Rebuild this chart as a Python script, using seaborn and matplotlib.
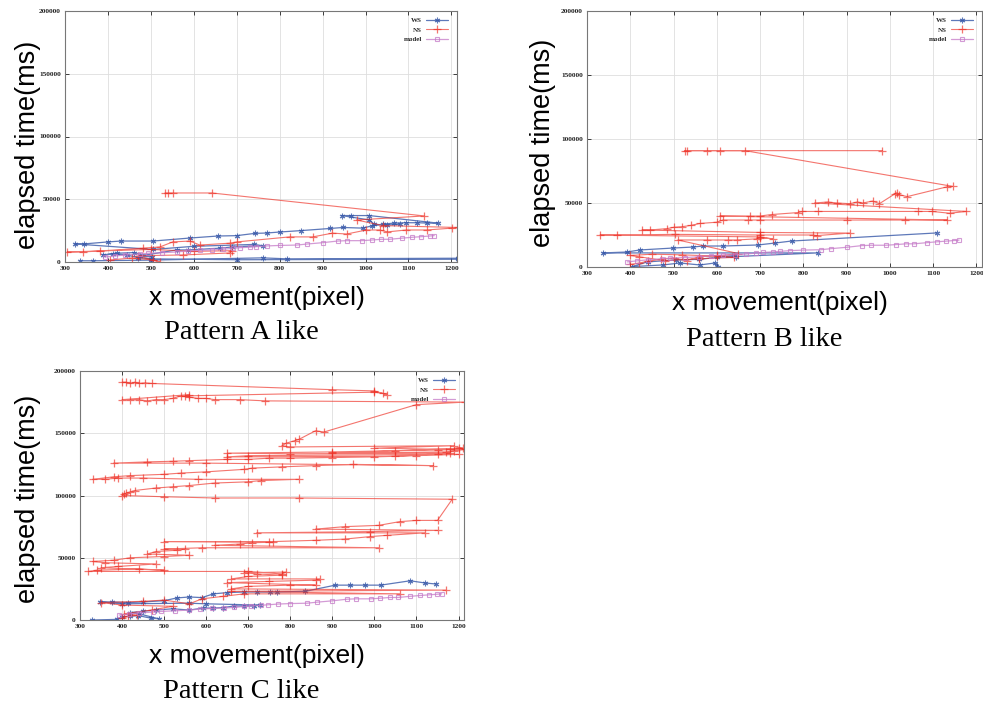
import numpy as np
import matplotlib
matplotlib.use("Agg")
import matplotlib.pyplot as plt
import seaborn as sns

# ---------------- data ----------------
x_ticks = [300, 400, 500, 600, 700, 800, 900, 1000, 1100, 1200]
y_ticks = [0, 50000, 100000, 150000, 200000]
series_labels = ["WS", "NS", "model"]
panel_titles = ["Pattern A like", "Pattern B like", "Pattern C like"]

model_x = [393, 416, 440, 474, 493, 526, 560, 586, 615, 642, 667, 691, 707, 730, 746, 770,
           800, 840, 863, 900, 935, 956, 991, 1014, 1037, 1056, 1085, 1109, 1130, 1149, 1160]
model_y = [4000, 4800, 5600, 6400, 6900, 7400, 8000, 8800, 9300, 9600, 10100, 10900, 11400, 11800,
           12200, 12800, 13200, 13500, 14300, 15400, 16700, 17000, 17000, 17500, 18100, 18100,
           19000, 19700, 20200, 20700, 21000]

# Pattern A
ws_a_x = [335, 365, 500, 760, 818, 1215, 1215, 700, 500, 470, 444, 412, 388, 420, 460, 502, 474,
          560, 586, 660, 690, 760, 740, 600, 505, 323, 344, 400, 430, 505, 591, 656, 700, 742, 770,
          800, 849, 917, 947, 993, 1014, 1040, 1067, 1095, 1121, 1144, 1168, 1009, 967, 944, 1009,
          1020, 1050, 1080]
ws_a_y = [1000, 1000, 1500, 3300, 2500, 3000, 2200, 1800, 2500, 3500, 5600, 6400, 5600, 7000, 7500,
          4000, 4800, 9600, 9600, 11000, 12000, 13000, 14000, 12500, 10000, 14400, 14400, 16000,
          16700, 16700, 19100, 20700, 21000, 22800, 23100, 23900, 25000, 26700, 27500, 27000,
          28700, 30200, 31000, 31300, 31300, 31000, 31000, 37000, 37000, 37000, 33500, 30000,
          29500, 30000]
ns_a_x = [405, 456, 505, 521, 470, 574, 684, 690, 600, 500, 305, 342, 381, 481, 521, 551, 591, 614,
          684, 700, 823, 877, 923, 956, 1002, 1033, 1051, 1095, 1142, 1202, 1215, 1040, 979, 1137,
          642, 551, 540, 533]
ns_a_y = [1600, 3200, 1600, 0, 5000, 5600, 7200, 9000, 8500, 10000, 8000, 8000, 8800, 11000, 12000,
          16000, 16700, 13500, 15000, 16000, 20000, 20000, 23000, 22300, 25500, 25500, 24000,
          25500, 25500, 27000, 27500, 29000, 33500, 36700, 55000, 55000, 55000, 55000]

# Pattern B
ws_b_x = [602, 595, 561, 515, 475, 404, 440, 505, 560, 640, 645, 600, 833, 337, 392, 422, 498, 545,
          568, 614, 695, 734, 773, 1108]
ws_b_y = [0, 3100, 1600, 3100, 1600, 300, 4000, 5500, 6000, 9000, 7500, 7500, 11000, 11000, 11700,
          13300, 14800, 15600, 16400, 16400, 17200, 18700, 20300, 26600]
ns_b_x = [400, 420, 440, 470, 500, 530, 560, 600, 640, 560, 480, 420, 400, 450, 520, 600, 650, 510,
          577, 625, 646, 692, 699, 729, 700, 330, 369, 503, 699, 822, 831, 907, 700, 427, 445, 485,
          500, 520, 540, 561, 600, 614, 671, 699, 900, 1034, 1133, 607, 676, 699, 727, 787, 798,
          833, 1064, 1098, 1138, 1177, 826, 856, 877, 907, 925, 937, 960, 976, 1011, 1016, 1022,
          1040, 1133, 1145, 665, 607, 577, 531, 526, 983]
ns_b_y = [2000, 3000, 4500, 6000, 7000, 5000, 8000, 9000, 7500, 6500, 5000, 8000, 9000, 10000, 9500,
          8500, 10500, 21100, 21100, 21100, 21100, 22000, 23000, 22000, 23500, 25000, 25000, 25500,
          25000, 25000, 24500, 26500, 27000, 28900, 28900, 30000, 31000, 31500, 32500, 34000,
          35000, 36700, 36700, 36700, 36700, 36700, 36700, 39800, 39800, 39800, 41000, 42500,
          43400, 43400, 43400, 43400, 42000, 43400, 50000, 50800, 50000, 49500, 50800, 50000,
          51500, 49500, 57000, 58000, 56500, 55000, 62700, 63000, 90900, 90900, 90900, 90900,
          90900, 90900]

# Pattern C
ws_c_x = [329, 389, 400, 420, 439, 468, 487, 440, 420, 450, 480, 520, 560, 593, 617, 641, 665, 689,
          713, 727, 600, 560, 400, 348, 377, 415, 449, 500, 530, 560, 590, 617, 650, 691, 720, 751,
          768, 835, 907, 943, 977, 1015, 1085, 1121, 1147]
ws_c_y = [0, 500, 2500, 3000, 3500, 1500, 1000, 5000, 6000, 7000, 8000, 9000, 8000, 9600, 9600,
          10000, 11200, 11200, 11200, 12000, 13000, 13500, 13000, 14500, 14500, 14000, 14500,
          15500, 17700, 18500, 18000, 21000, 22000, 22500, 22500, 22500, 22500, 23000, 28000,
          28000, 28000, 28000, 31500, 29700, 28900]
ns_c_x = [400, 415, 435, 405, 470, 520, 400, 350, 450, 500, 560, 590, 640, 690, 1060, 660, 1170,
          660, 700, 800, 860, 650, 750, 860, 870, 660, 700, 780, 720, 690, 790, 780, 700,
          320, 340, 440, 500, 350, 390, 480, 360, 330, 380, 420, 500, 560, 460, 480, 530, 550, 500,
          590, 1010, 620, 680, 710, 750, 500, 760, 860, 930, 990, 1030, 1120, 720, 990, 1150, 860,
          930, 1010, 1060, 1100, 1150,
          1185, 820, 620, 500, 400, 405, 410, 420, 430, 480, 520, 560, 620, 700, 730, 820, 580, 450,
          390, 360, 330, 380, 420, 500, 540, 600, 690, 710, 780, 860, 950, 1140,
          600, 380, 460, 520, 560, 650, 700, 750, 800, 900, 1000, 1100, 1200, 1150, 700, 650, 1050,
          1180, 800, 650, 900, 1050, 1150, 1215, 1190, 1170, 900, 1210, 1200, 1180, 1000, 1190, 800,
          780, 790, 810, 820,
          860, 880, 1100, 1215, 740, 680, 620, 600, 580, 560, 540, 520, 500, 480, 460, 440, 420, 400,
          560, 550, 1000, 1020, 1030, 1000, 900, 470, 455, 440, 430, 420, 410, 400]
ns_c_y = [1500, 3000, 4000, 5000, 8000, 11000, 12000, 14000, 15000, 16000, 13000, 17000, 19000,
          21000, 21000, 23000, 24000,
          25000, 27000, 28000, 28000, 30000, 31000, 32000, 33000, 33000, 35000, 36000, 37000, 38000,
          38500, 37000, 39000,
          39000, 40000, 41000, 40000, 42000, 43000, 45000, 46000, 47000, 48000, 50000, 51000, 52000,
          53000, 55000, 56000, 57000, 57000,
          58000, 58000, 60000, 61000, 62000, 62500, 63000, 63000, 64000, 65000, 67000, 68000, 70000,
          70000, 71000, 72000, 73000, 75000, 76000, 79000, 80000, 80000,
          97000, 98000, 98000, 99000, 100000, 101000, 102000, 103000, 104000, 106000, 107000,
          108000, 110000, 111000, 112000, 113000, 113000, 114000, 114000, 113000, 113000, 115000,
          116000, 117000, 118000, 119000, 121000, 122000, 123000, 124000, 125000, 124000,
          126000, 126000, 127000, 127500, 128000, 129000, 129000, 130000, 130000, 130500, 131000,
          132000, 133000, 133000, 132000, 131000, 131500, 134000, 133500, 134000, 135000, 136000,
          136500, 137000, 136000, 135000, 134000, 138000, 138500, 137000, 138000, 140000, 139000,
          140000, 142000, 144000, 145000,
          152000, 151000, 173000, 175000, 176000, 177000, 177000, 178000, 178000, 179000, 180000,
          178000, 177000, 177000, 176000, 177000, 177000, 177000, 181000, 180000, 183000, 182000,
          181000, 184000, 185000, 190000, 190500, 190000, 191000, 190000, 191000, 191000]

panels = [
    dict(ws=(ws_a_x, ws_a_y), ns=(ns_a_x, ns_a_y), title=panel_titles[0]),
    dict(ws=(ws_b_x, ws_b_y), ns=(ns_b_x, ns_b_y), title=panel_titles[1]),
    dict(ws=(ws_c_x, ws_c_y), ns=(ns_c_x, ns_c_y), title=panel_titles[2]),
]

# ---------------- style ----------------
sns.set_theme(style="white")
plt.rcParams["font.family"] = ["Liberation Sans", "DejaVu Sans"]

W, H = 983, 709
fig = plt.figure(figsize=(W / 100, H / 100), dpi=100)
fig.patch.set_facecolor("white")

# pixel boxes: left, top, right, bottom
boxes = [(65, 11, 457, 262), (587, 11, 982, 267), (80, 371, 464, 620)]
ylab_pos = [(28, 145), (543, 143), (28, 499)]
xlab_pos = [(257, 298), (780, 303), (257, 656)]
title_pos = [(241, 333), (764, 340), (241, 691)]

ws_color = "#3657a8"
ns_color = "#ee2b20"
model_color = "#c57ac8"

tick_font = dict(family="Liberation Serif", size=5.3, weight="bold")

for i, p in enumerate(panels):
    l, t, r, b = boxes[i]
    ax = fig.add_axes([l / W, 1 - b / H, (r - l) / W, (b - t) / H])
    ax.set_facecolor("white")

    sns.lineplot(x=p["ws"][0], y=p["ws"][1], sort=False, estimator=None, ax=ax,
                 color=ws_color, lw=0.9, alpha=0.8, marker=(6, 2, 0), markersize=4,
                 markeredgewidth=0.8, markeredgecolor=ws_color, label=series_labels[0])
    sns.lineplot(x=p["ns"][0], y=p["ns"][1], sort=False, estimator=None, ax=ax,
                 color=ns_color, lw=0.8, alpha=0.65, marker="+", markersize=6,
                 markeredgewidth=0.9, markeredgecolor=ns_color, label=series_labels[1])
    sns.lineplot(x=model_x, y=model_y, sort=False, estimator=None, ax=ax,
                 color=model_color, lw=0.9, alpha=0.75, marker="s", markersize=3.5,
                 markerfacecolor="none", markeredgewidth=0.8, markeredgecolor=model_color,
                 label=series_labels[2])

    ax.set_xlim(300, 1213)
    ax.set_ylim(0, 200000)
    ax.set_xticks(x_ticks)
    ax.set_yticks(y_ticks)
    ax.set_xticklabels([str(v) for v in x_ticks], fontdict=tick_font)
    ax.set_yticklabels([str(v) for v in y_ticks], fontdict=tick_font)
    ax.tick_params(direction="in", length=3, width=0.6, colors="#222222", pad=3,
                   top=True, right=True, bottom=True, left=True)
    ax.grid(True, color="#dedede", lw=0.6)
    ax.set_axisbelow(True)
    for s in ax.spines.values():
        s.set_color("#777777")
        s.set_linewidth(0.8)
    ax.set_xlabel("")
    ax.set_ylabel("")

    ax.legend(loc="upper right", bbox_to_anchor=(0.99, 0.995), frameon=False,
              markerfirst=False, handlelength=3.2, handletextpad=0.6,
              labelspacing=0.55, borderaxespad=0.3,
              prop=dict(family="Liberation Serif", size=5, weight="bold"))

    yx, yy = ylab_pos[i]
    fig.text(yx / W, 1 - yy / H, "elapsed time(ms)", rotation=90, ha="center", va="center",
             fontsize=19.5, family="Liberation Sans", color="black")
    xx, xy = xlab_pos[i]
    fig.text(xx / W, 1 - xy / H, "x movement(pixel)", ha="center", va="center",
             fontsize=19, family="Liberation Sans", color="black")
    tx, ty = title_pos[i]
    fig.text(tx / W, 1 - ty / H, p["title"], ha="center", va="center",
             fontsize=20.5, family="Liberation Serif", color="black")

fig.savefig("out.png", dpi=100, facecolor="white")
